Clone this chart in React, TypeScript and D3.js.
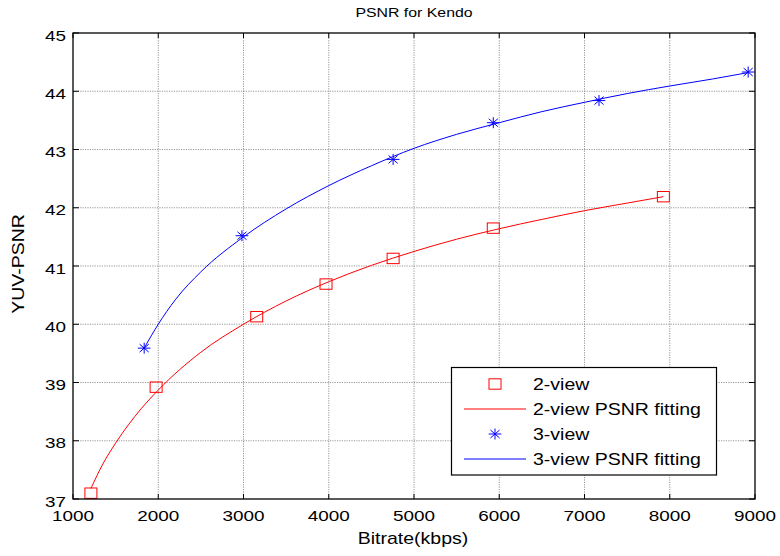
import React from "react";
import * as d3 from "d3";

const xTicks = [1000, 2000, 3000, 4000, 5000, 6000, 7000, 8000, 9000];
const yTicks = [37, 38, 39, 40, 41, 42, 43, 44, 45];

// measured points
const twoViewRate = [1210, 1975, 3155, 3968, 4755, 5930, 7925];
const twoViewPsnr = [37.1, 38.92, 40.13, 40.69, 41.13, 41.65, 42.19];
const threeViewRate = [1835, 2982, 4755, 5930, 7170, 8920];
const threeViewPsnr = [39.59, 41.52, 42.83, 43.46, 43.84, 44.33];

// fitted curves
const twoFitRate = [1210, 1350, 1500, 1800, 2000, 2500, 3000, 3500, 4000, 4500, 5000, 5500, 6000, 6500, 7000, 7500, 7925];
const twoFitPsnr = [37.18, 37.6, 37.96, 38.55, 38.87, 39.52, 40.0, 40.4, 40.73, 41.01, 41.25, 41.46, 41.64, 41.8, 41.95, 42.08, 42.19];
const threeFitRate = [1835, 2000, 2200, 2500, 3000, 3500, 4000, 4500, 5000, 5500, 6000, 6500, 7000, 7500, 8000, 8500, 8920];
const threeFitPsnr = [39.59, 40.0, 40.42, 40.9, 41.5, 41.98, 42.38, 42.72, 43.02, 43.26, 43.46, 43.65, 43.81, 43.96, 44.09, 44.21, 44.32];

const legendLabels = ["2-view", "2-view PSNR fitting", "3-view", "3-view PSNR fitting"];

const W = 780, H = 556;
const L = 73, R = 755, T = 33, B = 499;
const SX = 1.22;
const FONT = "Arial, 'Liberation Sans', Helvetica, sans-serif";

function Txt({ x, y, size, anchor = "start", rotate = 0, children }: any) {
  return (
    <text
      transform={`translate(${x},${y}) rotate(${rotate}) scale(${SX},1)`}
      fontSize={size}
      fontFamily={FONT}
      textAnchor={anchor}
      fill="#000"
    >
      {children}
    </text>
  );
}

function Square({ x, y, color }: any) {
  return <rect x={x - 6} y={y - 5.2} width={12} height={10.4} fill="none" stroke={color} strokeWidth={1} />;
}

function Star({ x, y, color }: any) {
  const r = 5.5;
  const d = r * 0.72;
  return (
    <g stroke={color} strokeWidth={1}>
      <line x1={x - r * 1.15} y1={y} x2={x + r * 1.15} y2={y} />
      <line x1={x} y1={y - r} x2={x} y2={y + r} />
      <line x1={x - d * 1.15} y1={y - d} x2={x + d * 1.15} y2={y + d} />
      <line x1={x - d * 1.15} y1={y + d} x2={x + d * 1.15} y2={y - d} />
    </g>
  );
}

export default function App() {
  const x = d3.scaleLinear().domain([1000, 9000]).range([L, R]);
  const y = d3.scaleLinear().domain([37, 45]).range([B, T]);
  const line = d3
    .line<[number, number]>()
    .x((d) => x(d[0]))
    .y((d) => y(d[1]))
    .curve(d3.curveMonotoneX);
  const redFit = line(twoFitRate.map((r, i) => [r, twoFitPsnr[i]]) as [number, number][]) || "";
  const blueFit = line(threeFitRate.map((r, i) => [r, threeFitPsnr[i]]) as [number, number][]) || "";

  const lgX = 451.5, lgY = 367.5, lgW = 265, lgH = 107.5;
  const rows = [384, 409, 434, 459];

  return (
    <svg width={W} height={H} style={{ position: "absolute", left: 0, top: 0, background: "#fff" }}>
      <rect x={0} y={0} width={W} height={H} fill="#fff" />
      {/* grid */}
      <g stroke="#7f7f7f" strokeWidth={0.8} strokeDasharray="1.2,1.2">
        {xTicks.slice(1, -1).map((t) => (
          <line key={"gx" + t} x1={x(t)} x2={x(t)} y1={T} y2={B} />
        ))}
        {yTicks.slice(1, -1).map((t) => (
          <line key={"gy" + t} x1={L} x2={R} y1={y(t)} y2={y(t)} />
        ))}
      </g>
      {/* ticks */}
      <g stroke="#000" strokeWidth={1}>
        {xTicks.map((t) => (
          <g key={"tx" + t}>
            <line x1={x(t)} x2={x(t)} y1={B} y2={B - 5} />
            <line x1={x(t)} x2={x(t)} y1={T} y2={T + 5} />
          </g>
        ))}
        {yTicks.map((t) => (
          <g key={"ty" + t}>
            <line x1={L} x2={L + 6} y1={y(t)} y2={y(t)} />
            <line x1={R} x2={R - 6} y1={y(t)} y2={y(t)} />
          </g>
        ))}
      </g>
      {/* curves */}
      <path d={redFit} fill="none" stroke="#ff0000" strokeWidth={1} />
      <path d={blueFit} fill="none" stroke="#0000ff" strokeWidth={1} />
      {twoViewRate.map((r, i) => (
        <Square key={"s" + i} x={x(r)} y={y(twoViewPsnr[i])} color="#ff0000" />
      ))}
      {threeViewRate.map((r, i) => (
        <Star key={"st" + i} x={x(r)} y={y(threeViewPsnr[i])} color="#0000ff" />
      ))}
      {/* box */}
      <rect x={L} y={T} width={R - L} height={B - T} fill="none" stroke="#000" strokeWidth={1.3} />
      {/* tick labels */}
      {xTicks.map((t) => (
        <Txt key={"lx" + t} x={x(t)} y={521} size={15.5} anchor="middle">
          {t}
        </Txt>
      ))}
      {yTicks.map((t) => (
        <Txt key={"ly" + t} x={66} y={y(t) + 7.5} size={15.5} anchor="end">
          {t}
        </Txt>
      ))}
      {/* title & labels */}
      <Txt x={414} y={17} size={13} anchor="middle">PSNR for Kendo</Txt>
      <Txt x={413} y={544} size={16} anchor="middle">Bitrate(kbps)</Txt>
      <Txt x={24} y={264} size={16} anchor="middle" rotate={-90}>YUV-PSNR</Txt>
      {/* legend */}
      <rect x={lgX} y={lgY} width={lgW} height={lgH} fill="#fff" stroke="#000" strokeWidth={1.2} />
      <Square x={495} y={rows[0]} color="#ff0000" />
      <line x1={464} x2={526} y1={rows[1]} y2={rows[1]} stroke="#ff0000" strokeWidth={1} />
      <Star x={495} y={rows[2]} color="#0000ff" />
      <line x1={464} x2={526} y1={rows[3]} y2={rows[3]} stroke="#0000ff" strokeWidth={1} />
      {legendLabels.map((lab, i) => (
        <Txt key={lab} x={533} y={rows[i] + 6} size={16} anchor="start">
          {lab}
        </Txt>
      ))}
    </svg>
  );
}
